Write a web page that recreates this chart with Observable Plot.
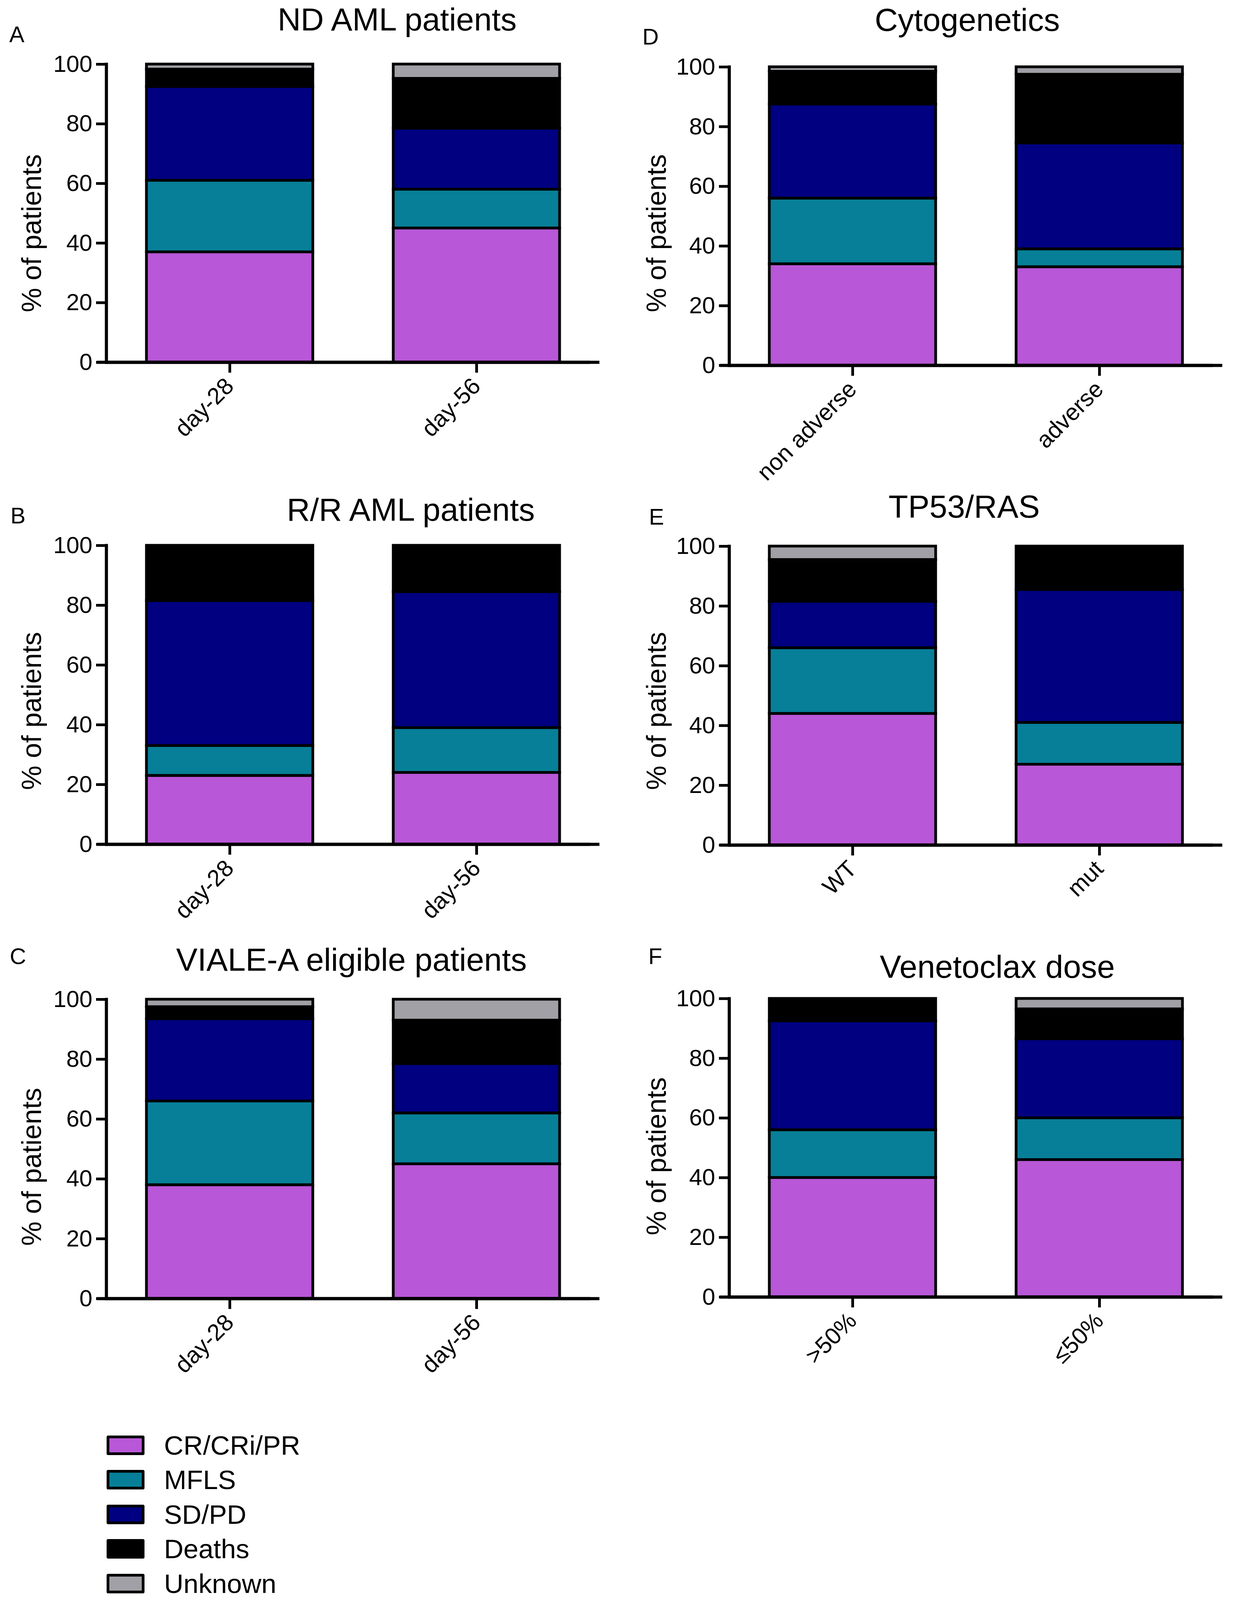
<!DOCTYPE html>
<html>
<head>
<meta charset="utf-8">
<script src="https://cdn.jsdelivr.net/npm/d3@7"></script>
<script src="https://cdn.jsdelivr.net/npm/@observablehq/plot@0.6"></script>
<style>
  body { margin: 0; background: white; font-family: "Liberation Sans", Arial, sans-serif; }
  #page { position: relative; width: 3160px; overflow: hidden; }
  .txt { position: absolute; white-space: nowrap; line-height: 1; color: black; }
  .chart { position: absolute; }
</style>
</head>
<body>
<div id="page"></div>
<script>
// outcome categories, stacked bottom to top
const statuses = ["CR/CRi/PR", "MFLS", "SD/PD", "Deaths", "Unknown"];
const statusColors = ["#B857D7", "#077F98", "#000080", "#000000", "#A1A0A6"];
const yTicks = [0, 20, 40, 60, 80, 100];

// % of patients per category (same order as statuses)
const ndGroups = ["day-28", "day-56"];
const ndDay28 = [37, 24, 31.5, 5.8, 1.7];
const ndDay56 = [45, 13, 20.5, 16.7, 4.8];

const rrGroups = ["day-28", "day-56"];
const rrDay28 = [23, 10, 48.5, 18.5, 0];
const rrDay56 = [24, 15, 45.5, 15.5, 0];

const vialeGroups = ["day-28", "day-56"];
const vialeDay28 = [38, 28, 27.5, 4, 2.5];
const vialeDay56 = [45, 17, 16.5, 14.5, 7];

const cytoGroups = ["non adverse", "adverse"];
const cytoNonAdverse = [34, 22, 31.5, 11, 1.5];
const cytoAdverse = [33, 6, 35.5, 23, 2.5];

const tp53Groups = ["WT", "mut"];
const tp53Wt = [44, 22, 15.5, 14, 4.5];
const tp53Mut = [27, 14, 44.5, 14.5, 0];

const doseGroups = [">50%", "≤50%"];
const doseHigh = [40, 16, 36.5, 7.5, 0];
const doseLow = [46, 14, 26.5, 10, 3.5];

// panel placement, in reference pixels (page is 4542 tall)
const panels = [
  {letter: "A", title: "ND AML patients", groups: ndGroups, series: [ndDay28, ndDay56],
   col: 0, y100: 182, y0: 1028, tx: 1017, ty: 55, lx: 43, ly: 98, yl: 662},
  {letter: "B", title: "R/R AML patients", groups: rrGroups, series: [rrDay28, rrDay56],
   col: 0, y100: 1548, y0: 2396, tx: 1052, ty: 1447, lx: 46, ly: 1464, yl: 2018},
  {letter: "C", title: "VIALE-A eligible patients", groups: vialeGroups, series: [vialeDay28, vialeDay56],
   col: 0, y100: 2836, y0: 3686, tx: 900, ty: 2724, lx: 46, ly: 2715, yl: 3312},
  {letter: "D", title: "Cytogenetics", groups: cytoGroups, series: [cytoNonAdverse, cytoAdverse],
   col: 1, y100: 190, y0: 1037, tx: 2477, ty: 56, lx: 1666, ly: 104, yl: 662},
  {letter: "E", title: "TP53/RAS", groups: tp53Groups, series: [tp53Wt, tp53Mut],
   col: 1, y100: 1550, y0: 2399, tx: 2469, ty: 1438, lx: 1681, ly: 1467, yl: 2018},
  {letter: "F", title: "Venetoclax dose", groups: doseGroups, series: [doseHigh, doseLow],
   col: 1, y100: 2834, y0: 3682, tx: 2554, ty: 2745, lx: 1678, ly: 2715, yl: 3282}
];

// the visible window can be shorter than the reference: squeeze the layout to fit
const sy = Math.min(1, (window.innerHeight || 4542) / 4542);
const Y = v => Math.round(v * sy);

const page = document.getElementById("page");
page.style.height = Y(4542) + "px";

function addText(str, x, y, size, rotate) {
  const el = document.createElement("div");
  el.className = "txt";
  el.textContent = str;
  el.style.left = x + "px";
  el.style.top = y + "px";
  el.style.fontSize = size + "px";
  el.style.transform = "translate(-50%, -50%)" + (rotate ? ` rotate(${rotate}deg)` : "");
  page.appendChild(el);
  return el;
}

panels.forEach(p => {
  const rows = [];
  p.groups.forEach((g, i) => {
    p.series[i].forEach((v, j) => {
      if (v > 0) rows.push({group: g, status: statuses[j], value: v});
    });
  });

  const left = p.col * 1580;
  const axisX = p.col === 0 ? 272 : 1867;
  const axisEnd = axisX + 1263;
  const mt = 20, mb = 330;

  const chart = Plot.plot({
    width: 1580,
    height: (Y(p.y0) - Y(p.y100)) + mt + mb,
    marginLeft: axisX - left,
    marginRight: left + 1580 - axisEnd,
    marginTop: mt,
    marginBottom: mb,
    style: {fontFamily: "Liberation Sans, Arial, sans-serif", background: "transparent", overflow: "visible"},
    x: {type: "band", domain: p.groups, paddingInner: 0.326, paddingOuter: 0.161, axis: null},
    y: {domain: [0, 100], axis: null},
    color: {domain: statuses, range: statusColors},
    marks: [
      Plot.barY(rows, {x: "group", y: "value", fill: "status", stroke: "black", strokeWidth: 7}),
      Plot.axisY({ticks: yTicks, tickSize: 26, tickPadding: 10, fontSize: 60, strokeWidth: 7, label: null}),
      Plot.axisX({tickRotate: -45, tickSize: 27, tickPadding: 24, fontSize: 60, strokeWidth: 7, label: null}),
      Plot.frame({anchor: "left", stroke: "black", strokeWidth: 8}),
      Plot.ruleY([0], {stroke: "black", strokeWidth: 8}),
      Plot.ruleY([0], {stroke: "black", strokeWidth: 8, dx: -24})
    ]
  });
  chart.classList.add("chart");
  chart.style.left = left + "px";
  chart.style.top = (Y(p.y100) - mt) + "px";
  page.appendChild(chart);

  addText(p.title, p.tx, Y(p.ty), 82);
  addText(p.letter, p.lx, Y(p.ly), 58);
  addText("% of patients", p.col === 0 ? 81 : 1681, Y(p.yl), 70, -90);
});

// legend
statuses.forEach((s, i) => {
  const cy = Y(4103 + i * 98);
  const h = Math.round(55 * sy);
  const sw = document.createElement("div");
  sw.style.position = "absolute";
  sw.style.boxSizing = "border-box";
  sw.style.left = "273px";
  sw.style.top = (cy - h / 2) + "px";
  sw.style.width = "97px";
  sw.style.height = h + "px";
  sw.style.border = "7px solid black";
  sw.style.borderRadius = "4px";
  sw.style.background = statusColors[i];
  page.appendChild(sw);
  const t = addText(s, 420, cy, 69);
  t.style.transform = "translate(0, -50%)";
});
</script>
</body>
</html>
